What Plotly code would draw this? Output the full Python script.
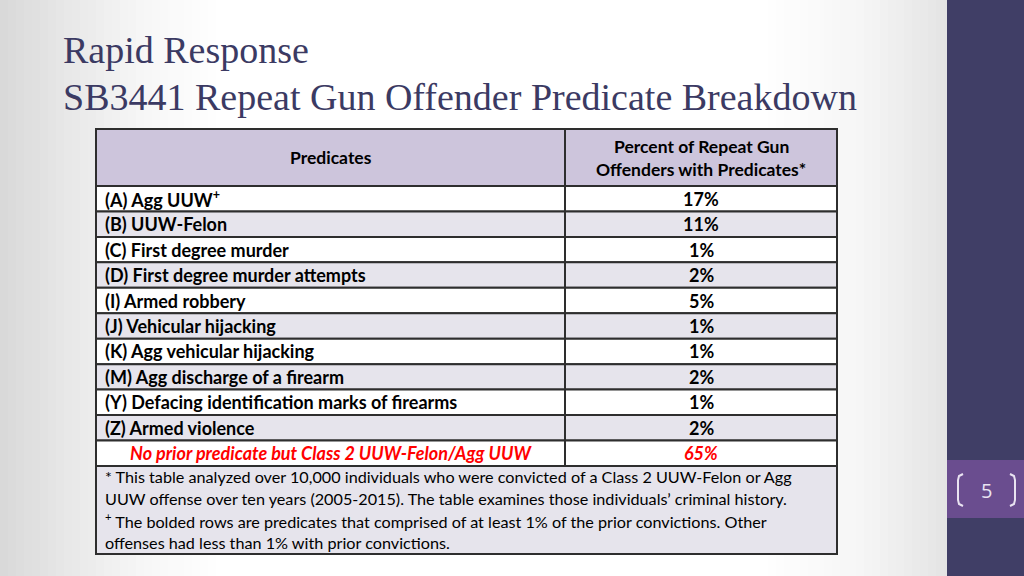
import plotly.graph_objects as go

# ---------------- data ----------------
title_lines = ["Rapid Response", "SB3441 Repeat Gun Offender Predicate Breakdown"]
header_labels = [["Predicates"], ["Percent of Repeat Gun", "Offenders with Predicates*"]]
predicates = [
    "(A) Agg UUW<sup>+</sup>",
    "(B) UUW-Felon",
    "(C) First degree murder",
    "(D) First degree murder attempts",
    "(I) Armed robbery",
    "(J) Vehicular hijacking",
    "(K) Agg vehicular hijacking",
    "(M) Agg discharge of a firearm",
    "(Y) Defacing identification marks of firearms",
    "(Z) Armed violence",
]
percents = ["17%", "11%", "1%", "2%", "5%", "1%", "1%", "2%", "1%", "2%"]
summary_label = "No prior predicate but Class 2 UUW-Felon/Agg UUW"
summary_percent = "65%"
footnote_lines = [
    "* This table analyzed over 10,000 individuals who were convicted of a Class 2 UUW-Felon or Agg",
    "UUW offense over ten years (2005-2015). The table examines those individuals\u2019 criminal history.",
    "<sup>+</sup> The bolded rows are predicates that comprised of at least 1% of the prior convictions. Other",
    "offenses had less than 1% with prior convictions.",
]
page_number = "5"

# ---------------- layout constants ----------------
W, H = 1024, 576
def fx(px):
    return px / W
def fy(py):
    return 1 - py / H

TABLE_L, TABLE_T = 96, 129          # pixel position of table's top-left corner
col_widths = [469, 272]             # column widths (table x units == px)
col_starts = [0, col_widths[0]]
table_w = sum(col_widths)
ROW_PX = 25.45                      # one y unit == one body row
header_u = 57 / ROW_PX
foot_u = 88 / ROW_PX
n_rows = len(predicates) + 1
total_u = header_u + n_rows + foot_u
PAD_PX = 2

TITLE_COLOR = "#3b3a63"
HEADER_FILL = "#cdc5dc"
ALT_FILL = "#e6e4ec"
LINE_COLOR = "#2e2e2e"
RED = "#ff0000"
FONT = "Lato"
FS = 18

row_centers = [header_u + i + 0.5 for i in range(n_rows)]
fills = [("white" if i % 2 == 0 else ALT_FILL) for i in range(n_rows)]
line = dict(color=LINE_COLOR, width=2)

fig = go.Figure()
# header cells
fig.add_trace(go.Bar(orientation="h", y=[header_u / 2] * 2, base=col_starts, x=col_widths,
                     width=[header_u] * 2, marker=dict(color=HEADER_FILL, line=line), hoverinfo="skip"))
# body cells
for c in range(2):
    fig.add_trace(go.Bar(orientation="h", y=row_centers, base=[col_starts[c]] * n_rows,
                         x=[col_widths[c]] * n_rows, width=[1] * n_rows,
                         marker=dict(color=fills, line=line), hoverinfo="skip"))
# footnote cell (spans both columns)
foot_top = header_u + n_rows
fig.add_trace(go.Bar(orientation="h", y=[foot_top + foot_u / 2], base=[0], x=[table_w],
                     width=[foot_u], marker=dict(color=ALT_FILL, line=line), hoverinfo="skip"))

annotations = []
def ann(text, x, y, anchor="left", size=FS, color="black", xref="x", yref="y", family=FONT):
    annotations.append(dict(text=text, x=x, y=y, xref=xref, yref=yref, xanchor=anchor, yanchor="middle",
                            showarrow=False, font=dict(family=family, size=size, color=color)))

# header text
for c, lines in enumerate(header_labels):
    cx = col_starts[c] + col_widths[c] / 2
    k = len(lines)
    for j, t in enumerate(lines):
        ann("<b>%s</b>" % t, cx, header_u / 2 + (j - (k - 1) / 2) * (23 / ROW_PX), anchor="center", size=17.5)
# body text
for i, (p, v) in enumerate(zip(predicates, percents)):
    ann("<b>%s</b>" % p, 7, row_centers[i])
    ann("<b>%s</b>" % v, col_starts[1] + col_widths[1] / 2, row_centers[i], anchor="center")
ann("<b><i>%s</i></b>" % summary_label, col_widths[0] / 2, row_centers[-1], anchor="center", color=RED)
ann("<b><i>%s</i></b>" % summary_percent, col_starts[1] + col_widths[1] / 2, row_centers[-1],
    anchor="center", color=RED)
# footnote text
for i, t in enumerate(footnote_lines):
    ann(t, 7, foot_top + (11 + 22 * i) / ROW_PX, size=16.2)

# title
for t, yy in zip(title_lines, [50, 97]):
    ann(t, fx(61), fy(yy), xref="paper", yref="paper", size=38, color=TITLE_COLOR, family="Liberation Serif")
# page number
ann(page_number, fx(986), fy(490), anchor="center", xref="paper", yref="paper", size=20,
    color="#e9e3f1", family="Open Sans")

shapes = []
# background gradient (grey edges, white centre)
stops = [(0, 216), (60, 230), (140, 246), (220, 255), (760, 255), (860, 246), (947, 228)]
def grey_at(x):
    for (x0, g0), (x1, g1) in zip(stops[:-1], stops[1:]):
        if x0 <= x <= x1:
            return g0 + (g1 - g0) * (x - x0) / (x1 - x0)
    return stops[-1][1]
step = 8
for x in range(0, 947, step):
    g = int(round(grey_at(x + step / 2)))
    shapes.append(dict(type="rect", xref="paper", yref="paper", x0=fx(x), x1=fx(min(x + step, 947)) + 0.001,
                       y0=0, y1=1, fillcolor="rgb(%d,%d,%d)" % (g, g, g), line=dict(width=0), layer="below"))
# sidebar + page-number box
shapes.append(dict(type="rect", xref="paper", yref="paper", x0=fx(947), x1=1, y0=0, y1=1,
                   fillcolor="#403e66", line=dict(width=0), layer="below"))
shapes.append(dict(type="rect", xref="paper", yref="paper", x0=fx(947), x1=1, y0=fy(518), y1=fy(460),
                   fillcolor="#6a4d8f", line=dict(width=0), layer="below"))
def path(points):
    return "M " + " L ".join("%f,%f" % (fx(a), fy(b)) for a, b in points)
for pts in ([(963, 474), (959, 476), (958, 480), (958, 500), (959, 504), (963, 506)],
            [(1010, 474), (1014, 476), (1015, 480), (1015, 500), (1014, 504), (1010, 506)]):
    shapes.append(dict(type="path", xref="paper", yref="paper", path=path(pts),
                       line=dict(color="#e9e3f1", width=2), layer="above"))

table_h_px = total_u * ROW_PX
fig.update_layout(
    width=W, height=H,
    margin=dict(l=0, r=0, t=0, b=0),
    paper_bgcolor="white",
    plot_bgcolor="rgba(0,0,0,0)",
    barmode="overlay",
    bargap=0,
    showlegend=False,
    xaxis=dict(domain=[fx(TABLE_L - PAD_PX), fx(TABLE_L + table_w + PAD_PX)],
               range=[-PAD_PX, table_w + PAD_PX], visible=False, fixedrange=True),
    yaxis=dict(domain=[fy(TABLE_T + table_h_px + PAD_PX), fy(TABLE_T - PAD_PX)],
               range=[total_u + PAD_PX / ROW_PX, -PAD_PX / ROW_PX], visible=False, fixedrange=True),
    shapes=shapes,
    annotations=annotations,
)
fig.write_html("out.html", config={"displayModeBar": False, "staticPlot": True},
               post_script="document.body.style.margin='0';document.body.style.overflow='hidden';")
